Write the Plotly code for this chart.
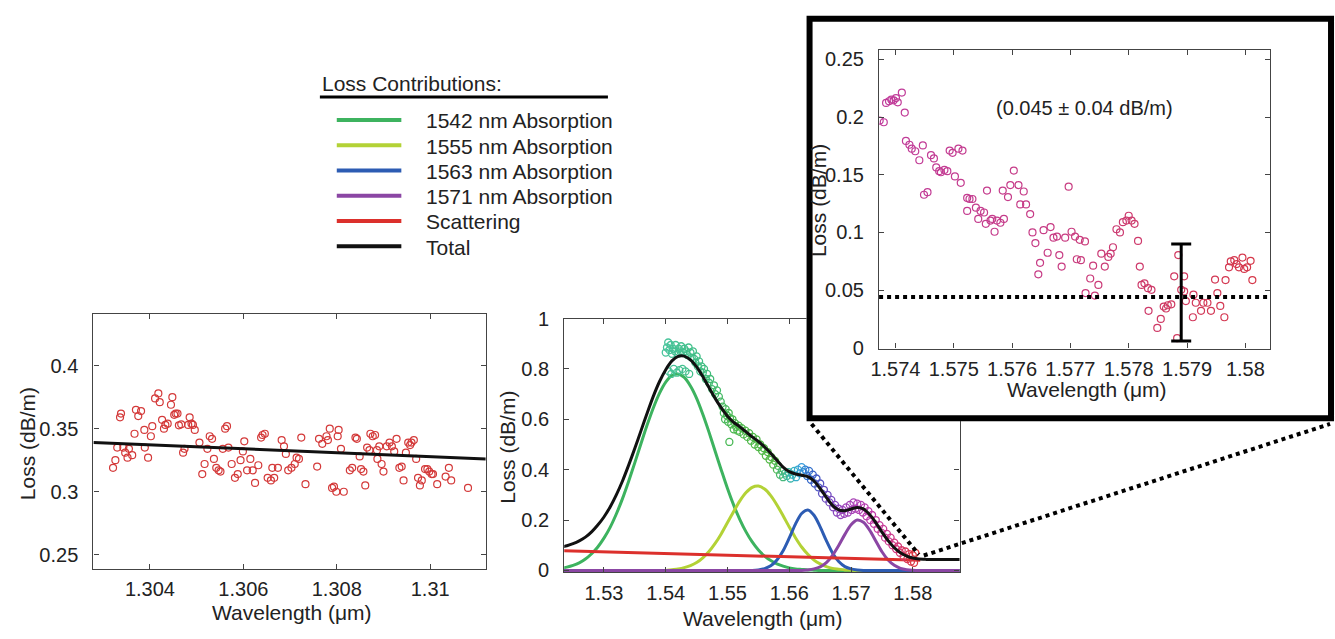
import plotly.graph_objects as go

FIG_W, FIG_H = 1335, 639
FONT = "Liberation Sans, Arial, sans-serif"
TXT = "#222222"

# ---------------- Left panel: 1.30 um band ----------------
left_wl = [1.30321, 1.30326, 1.30330, 1.30336, 1.30338, 1.30343, 1.30347, 1.30352, 1.30355, 1.30362,
           1.30367, 1.30370, 1.30375, 1.30381, 1.30388, 1.30389, 1.30396, 1.30402, 1.30405, 1.30411,
           1.30418, 1.30421, 1.30426, 1.30430, 1.30433, 1.30438, 1.30445, 1.30448, 1.30452, 1.30455,
           1.30459, 1.30462, 1.30467, 1.30471, 1.30474, 1.30482, 1.30485, 1.30489, 1.30492, 1.30496,
           1.30506, 1.30512, 1.30517, 1.30523, 1.30528, 1.30533, 1.30537, 1.30542, 1.30547, 1.30551,
           1.30556, 1.30561, 1.30565, 1.30568, 1.30575, 1.30582, 1.30588, 1.30594, 1.30599, 1.30602,
           1.30608, 1.30615, 1.30620, 1.30625, 1.30632, 1.30638, 1.30641, 1.30646, 1.30652, 1.30659,
           1.30662, 1.30666, 1.30674, 1.30682, 1.30687, 1.30691, 1.30696, 1.30703, 1.30710, 1.30714,
           1.30719, 1.30724, 1.30733, 1.30758, 1.30762, 1.30769, 1.30778, 1.30781, 1.30785, 1.30790,
           1.30794, 1.30799, 1.30802, 1.30804, 1.30809, 1.30815, 1.30828, 1.30833, 1.30840, 1.30843,
           1.30849, 1.30852, 1.30857, 1.30861, 1.30865, 1.30870, 1.30872, 1.30877, 1.30882, 1.30886,
           1.30887, 1.30891, 1.30896, 1.30900, 1.30907, 1.30913, 1.30918, 1.30923, 1.30928, 1.30934,
           1.30939, 1.30943, 1.30948, 1.30953, 1.30957, 1.30960, 1.30965, 1.30970, 1.30974, 1.30978,
           1.30982, 1.30989, 1.30994, 1.30998, 1.31003, 1.31006, 1.31015, 1.31033, 1.31040, 1.31045,
           1.31081]
left_loss = [0.319, 0.325, 0.335, 0.359, 0.362, 0.335, 0.331, 0.327, 0.334, 0.329,
             0.346, 0.365, 0.360, 0.364, 0.349, 0.335, 0.327, 0.344, 0.352, 0.374,
             0.378, 0.371, 0.357, 0.350, 0.353, 0.354, 0.369, 0.375, 0.361, 0.362,
             0.362, 0.3527, 0.3535, 0.331, 0.334, 0.353, 0.359, 0.354, 0.353, 0.349,
             0.339, 0.314, 0.322, 0.334, 0.344, 0.342, 0.326, 0.319, 0.317, 0.316,
             0.334, 0.350, 0.352, 0.335, 0.322, 0.311, 0.314, 0.325, 0.332, 0.340,
             0.317, 0.326, 0.317, 0.307, 0.321, 0.343, 0.345, 0.346, 0.311, 0.309,
             0.319, 0.311, 0.319, 0.341, 0.336, 0.330, 0.317, 0.319, 0.322, 0.327,
             0.326, 0.343, 0.306, 0.320, 0.342, 0.338, 0.344, 0.341, 0.350, 0.303,
             0.304, 0.300, 0.344, 0.349, 0.334, 0.300, 0.317, 0.319, 0.343, 0.342,
             0.328, 0.318, 0.316, 0.305, 0.335, 0.333, 0.346, 0.344, 0.345, 0.333,
             0.326, 0.336, 0.322, 0.316, 0.336, 0.339, 0.336, 0.332, 0.342, 0.319,
             0.320, 0.309, 0.331, 0.339, 0.337, 0.339, 0.341, 0.326, 0.311, 0.305,
             0.309, 0.318, 0.318, 0.316, 0.314, 0.314, 0.306, 0.312, 0.319, 0.309,
             0.303]
left_fit_wl = [1.30279, 1.31119]
left_fit_loss = [0.339, 0.326]

# ---------------- Middle panel: 1.55 um band ----------------
mid_wl = [1.523, 1.524, 1.525, 1.526, 1.527, 1.528, 1.529, 1.530, 1.531, 1.532,
          1.533, 1.534, 1.535, 1.536, 1.537, 1.538, 1.539, 1.540, 1.541, 1.542,
          1.543, 1.544, 1.545, 1.546, 1.547, 1.548, 1.549, 1.550, 1.551, 1.552,
          1.553, 1.554, 1.555, 1.556, 1.557, 1.558, 1.559, 1.560, 1.561, 1.562,
          1.563, 1.564, 1.565, 1.566, 1.567, 1.568, 1.569, 1.570, 1.571, 1.572,
          1.573, 1.574, 1.575, 1.576, 1.577, 1.578, 1.579, 1.580, 1.581, 1.582,
          1.583, 1.584, 1.585, 1.586, 1.587, 1.588]
abs_1542 = [0.008, 0.013, 0.020, 0.030, 0.045, 0.066, 0.093, 0.128, 0.171, 0.224,
            0.285, 0.354, 0.428, 0.504, 0.578, 0.646, 0.704, 0.748, 0.774, 0.780,
            0.766, 0.732, 0.683, 0.620, 0.549, 0.473, 0.398, 0.325, 0.259, 0.202,
            0.153, 0.113, 0.081, 0.057, 0.039, 0.026, 0.017, 0.010, 0.006, 0.004,
            0.002, 0.001, 0, 0, 0, 0, 0, 0, 0, 0,
            0, 0, 0, 0, 0, 0, 0, 0, 0, 0,
            0, 0, 0, 0, 0, 0]
abs_1555 = [0, 0, 0, 0, 0, 0, 0, 0, 0, 0,
            0, 0, 0, 0, 0, 0, 0, 0, 0.003, 0.006,
            0.011, 0.019, 0.031, 0.050, 0.075, 0.107, 0.146, 0.190, 0.234, 0.276,
            0.309, 0.330, 0.335, 0.323, 0.297, 0.260, 0.217, 0.172, 0.130, 0.093,
            0.064, 0.041, 0.026, 0.015, 0.008, 0.005, 0.002, 0.001, 0, 0,
            0, 0, 0, 0, 0, 0, 0, 0, 0, 0,
            0, 0, 0, 0, 0, 0]
abs_1563 = [0, 0, 0, 0, 0, 0, 0, 0, 0, 0,
            0, 0, 0, 0, 0, 0, 0, 0, 0, 0,
            0, 0, 0, 0, 0, 0, 0, 0, 0, 0,
            0, 0, 0.002, 0.007, 0.018, 0.041, 0.078, 0.129, 0.184, 0.226,
            0.240, 0.219, 0.173, 0.118, 0.069, 0.035, 0.015, 0.006, 0.002, 0,
            0, 0, 0, 0, 0, 0, 0, 0, 0, 0,
            0, 0, 0, 0, 0, 0]
abs_1571 = [0, 0, 0, 0, 0, 0, 0, 0, 0, 0,
            0, 0, 0, 0, 0, 0, 0, 0, 0, 0,
            0, 0, 0, 0, 0, 0, 0, 0, 0, 0,
            0, 0, 0, 0, 0, 0, 0, 0, 0, 0,
            0.002, 0.006, 0.014, 0.031, 0.060, 0.099, 0.143, 0.181, 0.200, 0.191,
            0.160, 0.117, 0.074, 0.041, 0.020, 0.008, 0.003, 0.001, 0, 0,
            0, 0, 0, 0, 0, 0]
total_loss = [0.092, 0.098, 0.106, 0.117, 0.132, 0.153, 0.180, 0.212, 0.252, 0.300,
              0.355, 0.418, 0.485, 0.555, 0.625, 0.692, 0.750, 0.797, 0.832, 0.850,
              0.851, 0.836, 0.808, 0.770, 0.726, 0.683, 0.645, 0.612, 0.588, 0.570,
              0.550, 0.530, 0.512, 0.490, 0.465, 0.437, 0.410, 0.392, 0.383, 0.378,
              0.372, 0.355, 0.325, 0.290, 0.258, 0.240, 0.237, 0.244, 0.250, 0.244,
              0.222, 0.190, 0.152, 0.118, 0.090, 0.070, 0.057, 0.049, 0.045, 0.044,
              0.043, 0.043, 0.043, 0.043, 0.043, 0.043]
scat_wl = [1.5235, 1.5812]
scat_loss = [0.078, 0.040]

mid_pts_wl = [1.5400, 1.5402, 1.5404, 1.5405, 1.5406, 1.5408, 1.5409, 1.5410, 1.5412, 1.5413,
              1.5415, 1.5416, 1.5418, 1.5419, 1.5421, 1.5422, 1.5424, 1.5425, 1.5427, 1.5428,
              1.5430, 1.5432, 1.5433, 1.5435, 1.5437, 1.5438, 1.5440, 1.5442, 1.5444, 1.5446,
              1.5448, 1.5450, 1.5452, 1.5454, 1.5456, 1.5458, 1.5460, 1.5462, 1.5465, 1.5467,
              1.5470, 1.5472, 1.5475, 1.5478, 1.5480, 1.5483, 1.5486, 1.5489, 1.5492, 1.5494,
              1.5496, 1.5497, 1.5499, 1.5501, 1.5502, 1.5503, 1.5504, 1.5506, 1.5508, 1.5510,
              1.5512, 1.5514, 1.5516, 1.5518, 1.5520, 1.5523, 1.5526, 1.5529, 1.5532, 1.5535,
              1.5538, 1.5541, 1.5544, 1.5547, 1.5550, 1.5553, 1.5556, 1.5559, 1.5562, 1.5565,
              1.5568, 1.5571, 1.5574, 1.5577, 1.5580, 1.5582, 1.5585, 1.5588, 1.5590, 1.5593,
              1.5596, 1.5599, 1.5602, 1.5605, 1.5608, 1.5611, 1.5614, 1.5617, 1.5620, 1.5623,
              1.5626, 1.5629, 1.5632, 1.5635, 1.5638, 1.5641, 1.5644, 1.5647, 1.5650, 1.5653,
              1.5656, 1.5659, 1.5662, 1.5665, 1.5668, 1.5671, 1.5674, 1.5677, 1.5680, 1.5683,
              1.5686, 1.5689, 1.5692, 1.5695, 1.5698, 1.5701, 1.5704, 1.5707, 1.5710, 1.5713,
              1.5716, 1.5719, 1.5722, 1.5725, 1.5728, 1.5731, 1.5734, 1.5737, 1.5740, 1.5743,
              1.5746, 1.5749, 1.5752, 1.5755, 1.5758, 1.5761, 1.5764, 1.5767, 1.5770, 1.5773,
              1.5776, 1.5779, 1.5782, 1.5785, 1.5788, 1.5791, 1.5794, 1.5797, 1.5800, 1.5802,
              1.5804]
mid_pts_loss = [0.865, 0.885, 0.905, 0.790, 0.875, 0.895, 0.780, 0.860, 0.880, 0.800,
                0.870, 0.895, 0.785, 0.860, 0.880, 0.795, 0.870, 0.890, 0.800, 0.865,
                0.880, 0.790, 0.870, 0.855, 0.885, 0.780, 0.865, 0.845, 0.870, 0.840,
                0.825, 0.850, 0.810, 0.830, 0.790, 0.810, 0.785, 0.800, 0.760, 0.780,
                0.745, 0.760, 0.720, 0.735, 0.700, 0.715, 0.690, 0.670, 0.650, 0.625,
                0.600, 0.640, 0.615, 0.590, 0.625, 0.510, 0.605, 0.580, 0.600, 0.560,
                0.585, 0.570, 0.555, 0.575, 0.550, 0.565, 0.540, 0.555, 0.530, 0.545,
                0.515, 0.530, 0.500, 0.520, 0.490, 0.500, 0.475, 0.485, 0.455, 0.470,
                0.440, 0.450, 0.420, 0.435, 0.400, 0.415, 0.380, 0.395, 0.370, 0.385,
                0.375, 0.390, 0.365, 0.380, 0.395, 0.370, 0.400, 0.385, 0.410, 0.390,
                0.400, 0.375, 0.395, 0.360, 0.380, 0.345, 0.365, 0.330, 0.345, 0.305,
                0.320, 0.285, 0.300, 0.270, 0.280, 0.250, 0.260, 0.230, 0.245, 0.220,
                0.240, 0.225, 0.250, 0.230, 0.260, 0.240, 0.270, 0.245, 0.265, 0.240,
                0.260, 0.230, 0.250, 0.215, 0.235, 0.200, 0.220, 0.185, 0.200, 0.165,
                0.180, 0.150, 0.165, 0.130, 0.145, 0.115, 0.130, 0.100, 0.110, 0.085,
                0.095, 0.070, 0.080, 0.055, 0.075, 0.045, 0.065, 0.035, 0.060, 0.030,
                0.070]

# ---------------- Inset: 1.574 - 1.580 um ----------------
inset_wl = [1.57373, 1.57380, 1.57384, 1.57389, 1.57393, 1.57397, 1.57401, 1.57404, 1.57411, 1.57416,
            1.57418, 1.57424, 1.57428, 1.57434, 1.57441, 1.57447, 1.57449, 1.57455, 1.57461, 1.57466,
            1.57470, 1.57475, 1.57478, 1.57484, 1.57489, 1.57493, 1.57498, 1.57502, 1.57508, 1.57512,
            1.57515, 1.57523, 1.57527, 1.57532, 1.57523, 1.57538, 1.57542, 1.57546, 1.57552, 1.57555,
            1.57557, 1.57563, 1.57570, 1.57566, 1.57574, 1.57580, 1.57586, 1.57584, 1.57593, 1.57597,
            1.57603, 1.57611, 1.57614, 1.57620, 1.57624, 1.57631, 1.57635, 1.57640, 1.57645, 1.57648,
            1.57654, 1.57661, 1.57666, 1.57671, 1.57677, 1.57681, 1.57685, 1.57691, 1.57697, 1.57702,
            1.57708, 1.57711, 1.57716, 1.57725, 1.57718, 1.57734, 1.57739, 1.57748, 1.57726, 1.57742,
            1.57753, 1.57759, 1.57765, 1.57769, 1.57773, 1.57779, 1.57785, 1.57790, 1.57796, 1.57800,
            1.57805, 1.57810, 1.57816, 1.57819, 1.57822, 1.57827, 1.57833, 1.57839, 1.57834, 1.57849,
            1.57855, 1.57860, 1.57864, 1.57867, 1.57873, 1.57878, 1.57883, 1.57885, 1.57890, 1.57895,
            1.57895, 1.57898, 1.57910, 1.57911, 1.57915, 1.57924, 1.57928, 1.57935, 1.57941, 1.57948,
            1.57952, 1.57957, 1.57964, 1.57966, 1.57972, 1.57975, 1.57981, 1.57985, 1.57989, 1.57995,
            1.57998, 1.58003, 1.58009, 1.58012]
inset_loss = [0.197, 0.1955, 0.2123, 0.2137, 0.2151, 0.2145, 0.2165, 0.2128, 0.2212, 0.2039,
              0.1793, 0.176, 0.1726, 0.1704, 0.1626, 0.1754, 0.1327, 0.1349, 0.167, 0.1642,
              0.1564, 0.1531, 0.1522, 0.1542, 0.1531, 0.171, 0.169, 0.1486, 0.1726, 0.143,
              0.171, 0.1299, 0.129, 0.129, 0.1187, 0.1215, 0.1117, 0.1187, 0.1173, 0.1075,
              0.1363, 0.1103, 0.1006, 0.1117, 0.1103, 0.1084, 0.1117, 0.1363, 0.1307, 0.1411,
              0.1536, 0.1411, 0.1243, 0.1355, 0.1243, 0.1159, 0.100, 0.0908, 0.0637, 0.0737,
              0.102, 0.0824, 0.1047, 0.0955, 0.0964, 0.0804, 0.0704, 0.0955, 0.1397, 0.1006,
              0.0964, 0.0768, 0.0936, 0.0922, 0.076, 0.0601, 0.0712, 0.0545, 0.0475, 0.0453,
              0.0816, 0.0704, 0.0788, 0.0816, 0.0872, 0.1028, 0.100, 0.1089, 0.1103, 0.1145,
              0.1103, 0.1075, 0.0927, 0.0704, 0.0545, 0.0559, 0.0517, 0.0503, 0.0321, 0.0173,
              0.0251, 0.0358, 0.0341, 0.0369, 0.0377, 0.062, 0.0084, 0.0804, 0.0503, 0.062,
              0.0489, 0.0405, 0.0265, 0.0461, 0.0391, 0.0321, 0.0391, 0.0391, 0.0321, 0.0592,
              0.0475, 0.0363, 0.0265, 0.0587, 0.0698, 0.0749, 0.076, 0.0726, 0.0698, 0.0782,
              0.0684, 0.0698, 0.0754, 0.0587]
mean_loss = 0.044
err_wl = 1.5789
err_center = 0.048
err_half = 0.042
inset_label = "(0.045 \u00b1 0.04 dB/m)"

# ---------------- Legend ----------------
legend_title = "Loss Contributions:"
legend_labels = ["1542 nm Absorption", "1555 nm Absorption", "1563 nm Absorption",
                 "1571 nm Absorption", "Scattering", "Total"]
C_1542, C_1555, C_1563, C_1571, C_SCAT, C_TOT = ("#3db35f", "#b3d236", "#2d5cb3",
                                                   "#8b46a4", "#dc302c", "#111111")
legend_colors = [C_1542, C_1555, C_1563, C_1571, C_SCAT, C_TOT]


def px(x):
    return x / FIG_W


def py(y):
    return 1 - y / FIG_H


fig = go.Figure()

# left panel
fig.add_trace(go.Scatter(x=left_wl, y=left_loss, mode="markers", xaxis="x", yaxis="y",
                         marker=dict(symbol="circle-open", size=7, color="#d43a3a",
                                     line=dict(width=1.2)), showlegend=False))
fig.add_trace(go.Scatter(x=left_fit_wl, y=left_fit_loss, mode="lines", xaxis="x", yaxis="y",
                         line=dict(color=C_TOT, width=3), showlegend=False))

# middle panel components
for vals, col in [(abs_1542, C_1542), (abs_1555, C_1555), (abs_1563, C_1563), (abs_1571, C_1571)]:
    fig.add_trace(go.Scatter(x=mid_wl, y=vals, mode="lines", xaxis="x2", yaxis="y2",
                             line=dict(color=col, width=3, shape="spline", smoothing=0.8),
                             showlegend=False))
fig.add_trace(go.Scatter(x=scat_wl, y=scat_loss, mode="lines", xaxis="x2", yaxis="y2",
                         line=dict(color=C_SCAT, width=3), showlegend=False))
mid_scale = [[0.0, "#48c49c"], [0.146, "#40bd82"], [0.27, "#4cb84e"], [0.43, "#55b845"],
             [0.49, "#3cb8a8"], [0.53, "#36a6de"], [0.575, "#3464c8"], [0.63, "#6a4cc0"],
             [0.70, "#9a46bc"], [0.80, "#bf40b0"], [0.90, "#d03c88"], [1.0, "#e0342e"]]
fig.add_trace(go.Scatter(x=mid_pts_wl, y=mid_pts_loss, mode="markers", xaxis="x2", yaxis="y2",
                         marker=dict(symbol="circle-open", size=7, color=mid_pts_wl,
                                     colorscale=mid_scale, cmin=1.540, cmax=1.581,
                                     line=dict(width=1.3)), showlegend=False))
fig.add_trace(go.Scatter(x=mid_wl, y=total_loss, mode="lines", xaxis="x2", yaxis="y2",
                         line=dict(color=C_TOT, width=3, shape="spline", smoothing=0.8),
                         showlegend=False))

# white backing for the inset box (covers the middle panel's corner)
fig.add_trace(go.Scatter(x=[0, 1, 1, 0, 0], y=[0, 0, 1, 1, 0], mode="lines", fill="toself",
                         fillcolor="white", line=dict(width=0, color="white"),
                         xaxis="x3", yaxis="y3", hoverinfo="skip", showlegend=False))

# inset
inset_scale = [[0.0, "#c03c9c"], [0.5, "#c83c82"], [1.0, "#d6384a"]]
fig.add_trace(go.Scatter(x=inset_wl, y=inset_loss, mode="markers", xaxis="x4", yaxis="y4",
                         marker=dict(symbol="circle-open", size=7, color=inset_wl,
                                     colorscale=inset_scale, cmin=1.5737, cmax=1.5801,
                                     line=dict(width=1.2)), showlegend=False))
fig.add_trace(go.Scatter(x=[err_wl], y=[err_center], mode="markers", xaxis="x4", yaxis="y4",
                         marker=dict(size=1, color="black"),
                         error_y=dict(type="data", array=[err_half], color="black",
                                      thickness=3, width=10),
                         showlegend=False))

axis_style = dict(showline=True, linecolor="#444444", linewidth=1.3, mirror="ticks",
                  ticks="inside", ticklen=5, tickwidth=1.2, tickcolor="#444444",
                  showgrid=False, zeroline=False,
                  tickfont=dict(family=FONT, size=20, color=TXT))
xstyle = dict(axis_style, ticklabelstandoff=2)
ystyle = dict(axis_style, ticklabelstandoff=10)

fig.update_layout(
    width=FIG_W, height=FIG_H, margin=dict(l=0, r=0, t=0, b=0),
    paper_bgcolor="white", plot_bgcolor="white", showlegend=False,
    xaxis=dict(domain=[px(85), px(480)], range=[1.30279, 1.31119], anchor="y",
               tickvals=[1.304, 1.306, 1.308, 1.31], ticktext=["1.304", "1.306", "1.308", "1.31"],
               **xstyle),
    yaxis=dict(domain=[py(577), py(313)], range=[0.2387, 0.4412], anchor="x",
               tickvals=[0.25, 0.3, 0.35, 0.4], ticktext=["0.25", "0.3", "0.35", "0.4"],
               **ystyle),
    xaxis2=dict(domain=[px(559), px(957)], range=[1.52357, 1.58756], anchor="y2",
                tickvals=[1.53, 1.54, 1.55, 1.56, 1.57, 1.58],
                ticktext=["1.53", "1.54", "1.55", "1.56", "1.57", "1.58"], **xstyle),
    yaxis2=dict(domain=[py(580.5), py(318)], range=[-0.008, 1.0], anchor="x2",
                tickvals=[0, 0.2, 0.4, 0.6, 0.8, 1.0],
                ticktext=["0", "0.2", "0.4", "0.6", "0.8", "1"], **ystyle),
    xaxis3=dict(domain=[px(803), px(1334)], range=[0, 1], anchor="y3", visible=False),
    yaxis3=dict(domain=[py(424), py(5)], range=[0, 1], anchor="x3", visible=False),
    xaxis4=dict(domain=[px(876), px(1270)], range=[1.57372, 1.58043], anchor="y4",
                tickvals=[1.574, 1.575, 1.576, 1.577, 1.578, 1.579, 1.58],
                ticktext=["1.574", "1.575", "1.576", "1.577", "1.578", "1.579", "1.58"],
                **xstyle),
    yaxis4=dict(domain=[py(349), py(40)], range=[-0.0006, 0.2584], anchor="x4",
                tickvals=[0, 0.05, 0.1, 0.15, 0.2, 0.25],
                ticktext=["0", "0.05", "0.1", "0.15", "0.2", "0.25"], **ystyle),
)

shapes = []
# inset mean line
shapes.append(dict(type="line", xref="x4 domain", yref="y4", x0=0, x1=1, y0=mean_loss,
                   y1=mean_loss, line=dict(color="black", width=4, dash="dot"), layer="above"))
# inset frame
shapes.append(dict(type="rect", xref="paper", yref="paper", x0=px(806), x1=px(1331),
                   y0=py(421), y1=py(8), line=dict(color="black", width=6), layer="above"))
# zoom connectors
shapes.append(dict(type="line", xref="paper", yref="paper", x0=px(808), y0=py(427),
                   x1=px(916), y1=py(562), line=dict(color="black", width=4, dash="dot"),
                   layer="above"))
shapes.append(dict(type="line", xref="paper", yref="paper", x0=px(921), y0=py(563),
                   x1=px(1330), y1=py(427), line=dict(color="black", width=4, dash="dot"),
                   layer="above"))
# legend
shapes.append(dict(type="line", xref="paper", yref="paper", x0=px(313), x1=px(603),
                   y0=py(89), y1=py(89), line=dict(color="black", width=3)))
annotations = [dict(text=legend_title, x=px(313), y=py(75), xref="paper", yref="paper",
                    xanchor="left", yanchor="middle", showarrow=False,
                    font=dict(family=FONT, size=21, color=TXT))]
for i, (lab, col) in enumerate(zip(legend_labels, legend_colors)):
    yy = 112.7 + 26.1 * i
    shapes.append(dict(type="line", xref="paper", yref="paper", x0=px(330), x1=px(395),
                       y0=py(yy), y1=py(yy), line=dict(color=col, width=4)))
    annotations.append(dict(text=lab, x=px(418), y=py(yy + 1), xref="paper", yref="paper",
                            xanchor="left", yanchor="middle", showarrow=False,
                            font=dict(family=FONT, size=21, color=TXT)))


def title_ann(text, x, y, angle=0):
    return dict(text=text, x=px(x), y=py(y), xref="paper", yref="paper", xanchor="center",
                yanchor="middle", showarrow=False, textangle=angle,
                font=dict(family=FONT, size=21, color=TXT))


annotations += [
    title_ann("Loss (dB/m)", 18, 447, -90),
    title_ann("Wavelength (\u03bcm)", 285, 621.7),
    title_ann("Loss (dB/m)", 502, 451, -90),
    title_ann("Wavelength (\u03bcm)", 759, 628),
    title_ann("Loss (dB/m)", 815, 196, -90),
    title_ann("Wavelength (\u03bcm)", 1085, 391.7),
    dict(text=inset_label, x=px(1083), y=py(100), xref="paper", yref="paper",
         xanchor="center", yanchor="middle", showarrow=False,
         font=dict(family=FONT, size=20, color=TXT)),
]

fig.update_layout(shapes=shapes, annotations=annotations)
fig.write_html("out.html", config={"displayModeBar": False},
               post_script="document.body.style.margin='0';document.body.style.overflow='hidden';")
